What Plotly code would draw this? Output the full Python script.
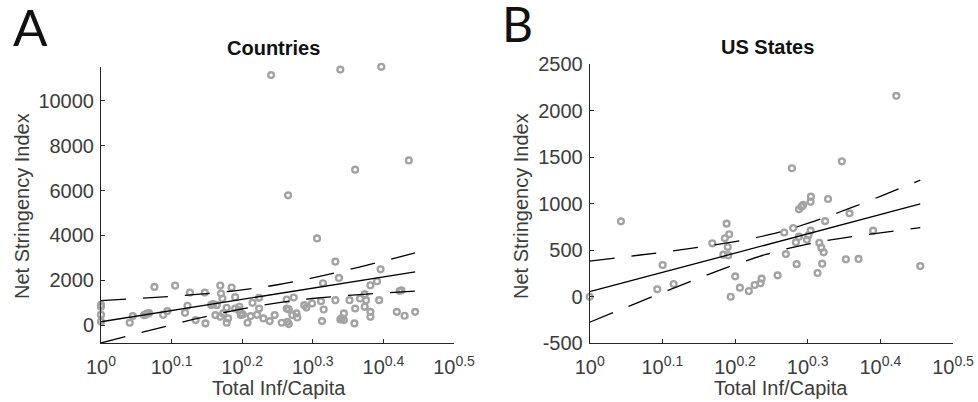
import plotly.graph_objects as go

# ---------------- data ----------------
# Panel A: Countries  (x exponent: Total Inf/Capita = 10**exp)
countries_exp = [0, 0, 0, 0, 0.0407, 0.045, 0.0634, 0.067, 0.061, 0.065, 0.068, 0.0757, 0.088, 0.094,
                 0.105, 0.119, 0.1225, 0.126, 0.134, 0.147, 0.148, 0.159, 0.164, 0.156, 0.162, 0.169,
                 0.170, 0.172, 0.169, 0.173, 0.178, 0.180, 0.178, 0.185, 0.190, 0.190, 0.195, 0.198,
                 0.196, 0.199, 0.201, 0.2076, 0.212, 0.2146, 0.221, 0.224, 0.224, 0.230, 0.239, 0.241,
                 0.246, 0.256, 0.263, 0.265, 0.263, 0.266, 0.264, 0.266, 0.271, 0.273, 0.277, 0.278,
                 0.288, 0.291, 0.299, 0.306, 0.3116, 0.3144, 0.3154, 0.313, 0.332, 0.332, 0.337, 0.339,
                 0.341, 0.344, 0.339, 0.344, 0.352, 0.359, 0.360, 0.360, 0.367, 0.3735, 0.3755, 0.3735,
                 0.3816, 0.3816, 0.3816, 0.391, 0.394, 0.396, 0.397, 0.419, 0.4255, 0.423, 0.430, 0.436,
                 0.445]
countries_nsi = [900, 820, 460, 160, 104, 400, 474, 518, 440, 500, 530, 1704, 459, 622,
                 1763, 548, 859, 1452, 222, 1452, 74, 933, 889, 900, 444, 1763,
                 1407, 1185, 370, 518, 770, 296, 104, 1674, 1244, 740, 667, 444,
                 815, 520, 470, 104, 400, 993, 459, 740, 1215, 296, 178, 11155,
                 444, 104, 1141, 5790, 740, 700, 148, 44, 444, 1230, 518, 340,
                 889, 780, 963, 3866, 1067, 1867, 696, 178, 2830, 1111, 2103, 11400,
                 296, 222, 250, 518, 1111, 74, 740, 6933, 1185, 1378, 1111, 815,
                 1778, 591, 370, 1955, 1111, 2489, 11525, 591, 1555, 1520, 415, 7347,
                 591]
# regression fit and confidence bounds (Countries)
countries_fit_exp = [0, 0.05, 0.1, 0.15, 0.2, 0.25, 0.3, 0.35, 0.4, 0.445]
countries_fit = [147, 397, 647, 896, 1146, 1396, 1646, 1895, 2145, 2370]
countries_upper = [1093, 1183, 1284, 1405, 1568, 1799, 2106, 2467, 2858, 3222]
countries_lower = [-799, -389, 10, 387, 724, 993, 1186, 1323, 1432, 1518]

# Panel B: US States
states_exp = [0, 0.043, 0.093, 0.1004, 0.1155, 0.1687, 0.184, 0.186, 0.1884, 0.192, 0.190, 0.1907,
              0.194, 0.2003, 0.2067, 0.219, 0.227, 0.235, 0.2366, 0.2586, 0.2677, 0.270, 0.2783,
              0.280, 0.2838, 0.2848, 0.288, 0.288, 0.2916, 0.2938, 0.299, 0.301, 0.304, 0.304,
              0.3044, 0.3136, 0.316, 0.3188, 0.322, 0.320, 0.324, 0.328, 0.347, 0.3526, 0.3576,
              0.370, 0.390, 0.4220, 0.455]
states_nsi = [0, 810, 80, 341, 137, 574, 452, 628, 785, 671, 534, 445,
              0, 219, 97, 61, 126, 144, 194, 230, 690, 458, 1380,
              738, 585, 350, 645, 939, 967, 986, 612, 660, 710, 1021,
              1075, 255, 580, 527, 477, 355, 812, 1050, 1455, 402, 896,
              406, 710, 2158, 330]
states_fit_exp = [0, 0.05, 0.1, 0.15, 0.2, 0.25, 0.3, 0.35, 0.4, 0.455]
states_fit = [54, 158, 261, 365, 469, 572, 676, 780, 883, 997]
states_upper = [382, 430, 478, 531, 592, 673, 787, 927, 1079, 1252]
states_lower = [-274, -114, 44, 199, 346, 471, 565, 633, 687, 742]

x_tick_exp = [0, 0.1, 0.2, 0.3, 0.4, 0.5]
x_tick_text = ["10<sup>0</sup>", "10<sup>0.1</sup>", "10<sup>0.2</sup>",
               "10<sup>0.3</sup>", "10<sup>0.4</sup>", "10<sup>0.5</sup>"]
yA_ticks = [0, 2000, 4000, 6000, 8000, 10000]
yB_ticks = [-500, 0, 500, 1000, 1500, 2000, 2500]

# ---------------- style ----------------
W, H = 978, 402
FONT = "Liberation Sans, Arial, Helvetica, sans-serif"
AX = "#262626"
TXT = "#3c3c3c"
MK = "#a3a3a3"
DASH = "25px,17px"

fig = go.Figure()

def pw(e):
    return [10 ** v for v in e]

def add_panel(xa, ya, ex, ys, fx, ff, fu, fl):
    fig.add_trace(go.Scatter(x=pw(ex), y=ys, mode="markers", xaxis=xa, yaxis=ya,
                             marker=dict(symbol="circle-open", size=5.8, color=MK,
                                         line=dict(width=2.4, color=MK)),
                             cliponaxis=False, showlegend=False, hoverinfo="skip"))
    fig.add_trace(go.Scatter(x=pw(fx), y=ff, mode="lines", xaxis=xa, yaxis=ya,
                             line=dict(color="black", width=1.3), showlegend=False))
    for arr in (fu, fl):
        fig.add_trace(go.Scatter(x=pw(fx), y=arr, mode="lines", xaxis=xa, yaxis=ya,
                                 line=dict(color="black", width=1.3, dash=DASH),
                                 line_shape="spline", showlegend=False))

add_panel("x", "y", countries_exp, countries_nsi, countries_fit_exp,
          countries_fit, countries_upper, countries_lower)
add_panel("x2", "y2", states_exp, states_nsi, states_fit_exp,
          states_fit, states_upper, states_lower)

def xaxis_cfg(d0, d1, anchor):
    return dict(type="log", range=[0, 0.5], domain=[d0 / W, d1 / W], anchor=anchor,
                automargin=False, tickvals=pw(x_tick_exp), ticktext=x_tick_text,
                ticks="inside", ticklen=4, tickwidth=1, tickcolor=AX, ticklabelstandoff=6,
                showline=True, linecolor=AX, linewidth=1, showgrid=False, zeroline=False,
                tickfont=dict(family=FONT, size=20, color=TXT))

def yaxis_cfg(r, ticks, top, bot, anchor):
    return dict(range=r, domain=[1 - bot / H, 1 - top / H], anchor=anchor,
                automargin=False, tickvals=ticks, ticktext=[str(t) for t in ticks],
                ticks="inside", ticklen=4, tickwidth=1, tickcolor=AX, ticklabelstandoff=2,
                showline=True, linecolor=AX, linewidth=1, showgrid=False, zeroline=False,
                tickfont=dict(family=FONT, size=20, color=TXT))

fig.update_layout(
    width=W, height=H, margin=dict(l=0, r=0, t=0, b=0, autoexpand=False),
    paper_bgcolor="white", plot_bgcolor="white",
    xaxis=xaxis_cfg(101, 454, "y"),
    yaxis=yaxis_cfg([-800, 11530], yA_ticks, 66.7, 343, "x"),
    xaxis2=xaxis_cfg(589.7, 953, "y2"),
    yaxis2=yaxis_cfg([-500, 2500], yB_ticks, 64, 343.3, "x2"),
)

def ann(text, x, y, size=20, bold=False, angle=0, xanchor="center", family=FONT, color=TXT):
    fig.add_annotation(text=("<b>%s</b>" % text) if bold else text, x=x / W, y=1 - y / H,
                       xref="paper", yref="paper", showarrow=False, textangle=angle,
                       xanchor=xanchor, yanchor="middle",
                       font=dict(family=family, size=size, color=color))

ann("Countries", 273.5, 48, bold=True, color="#111111")
ann("US States", 767.5, 47, bold=True, color="#111111")
ann("Total Inf/Capita", 279, 388)
ann("Total Inf/Capita", 781, 388)
ann("Net Stringency Index", 22, 206, angle=-90)
ann("Net Stringency Index", 521, 206, angle=-90)
ann("A", 11, 27, size=51, xanchor="left", family="Lato, sans-serif", color="#111111")
ann("B", 500, 23, size=48, xanchor="left", family="Lato, sans-serif", color="#111111")

fig.write_html("out.html")
